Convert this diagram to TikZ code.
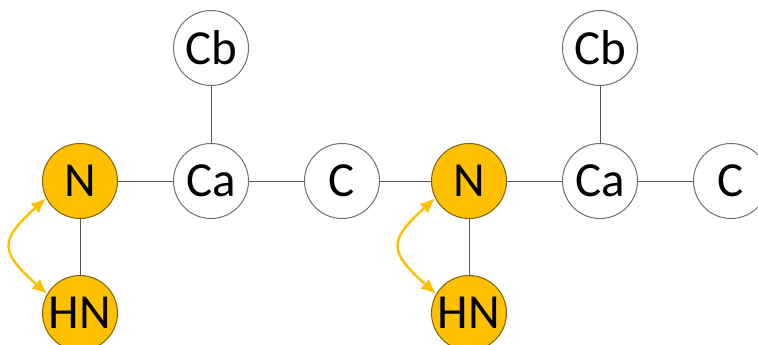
\documentclass[tikz,border=0pt]{standalone}
\usepackage{fontspec}
\setmainfont{Carlito}
\usetikzlibrary{arrows.meta}
\definecolor{gold}{HTML}{FFC000}
\definecolor{bondgray}{HTML}{595959}
\definecolor{ringgray}{HTML}{6F6F6F}
\definecolor{goldrim}{HTML}{7F6212}
\begin{document}
\begin{tikzpicture}[x=1pt,y=-1pt,
  atom/.style={circle,draw=ringgray,line width=1pt,fill=white,minimum size=75pt,inner sep=0pt,
    font=\fontsize{49}{49}\selectfont},
  amide/.style={atom,fill=gold,draw=goldrim},
  bond/.style={draw=bondgray,line width=1pt},
  swap/.style={draw=gold,line width=2.4pt,{Latex[length=15pt,width=13pt]}-{Latex[length=15pt,width=13pt]}}]
\useasboundingbox (0,0) rectangle (758,345);
% backbone, first residue
\node[amide] (n1)  at (80,181)  {N};
\node[amide] (hn1) at (80,313)  {HN};
\node[atom]  (ca1) at (211,181) {Ca};
\node[atom]  (cb1) at (211,48)  {Cb};
\node[atom]  (c1)  at (342,181) {C};
% second residue
\node[amide] (n2)  at (469,181) {N};
\node[amide] (hn2) at (469,313) {HN};
\node[atom]  (ca2) at (600,181) {Ca};
\node[atom]  (cb2) at (600,48)  {Cb};
\node[atom]  (c2)  at (731,181) {C};
% bonds
\draw[bond] (n1) -- (ca1);
\draw[bond] (ca1) -- (c1);
\draw[bond] (c1) -- (n2);
\draw[bond] (n2) -- (ca2);
\draw[bond] (ca2) -- (c2);
\draw[bond] (ca1) -- (cb1);
\draw[bond] (ca2) -- (cb2);
\draw[bond] (n1) -- (hn1);
\draw[bond] (n2) -- (hn2);
% N--HN correlation arrows
\draw[swap] (n1.207) to[out=222,in=138,looseness=1.7] (hn1.150);
\draw[swap] (n2.207) to[out=222,in=138,looseness=1.7] (hn2.150);
\end{tikzpicture}
\end{document}
